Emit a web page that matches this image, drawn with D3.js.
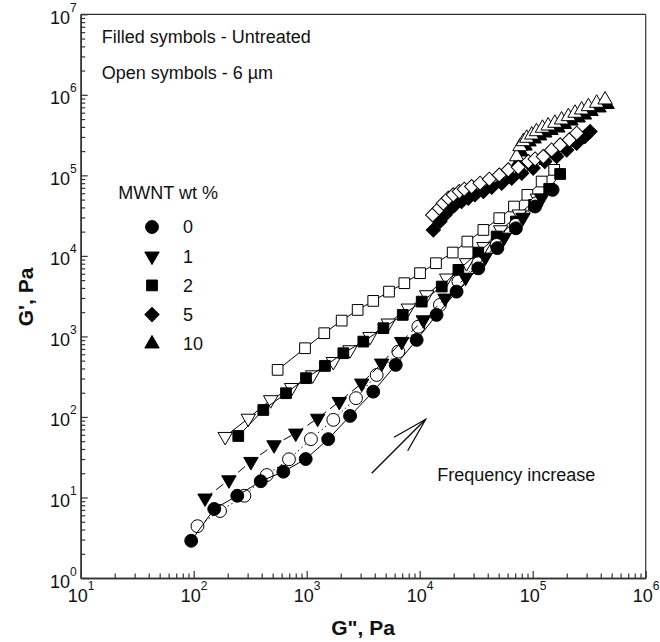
<!DOCTYPE html>
<html lang="en">
<head>
<meta charset="UTF-8">
<title>G' vs G''</title>
<script src="https://d3js.org/d3.v7.min.js"></script>
<style>
  body { margin: 0; background: white; }
  svg { display: block; font-family: Arial, "Liberation Sans", sans-serif; }
  .axis path, .axis line { stroke: #333; }
  .axis path { stroke-width: 1.5; }
  .axis line { stroke-width: 1.2; }
  .note { font-size: 18px; fill: #111; }
  .title { font-size: 21px; font-weight: bold; fill: #111; }
</style>
</head>
<body>
<svg id="chart"></svg>
<script>
const width = 660, height = 642;
const margin = { top: 14.3, right: 14.3, bottom: 64, left: 80.7 };

const xDecades = [1e1, 1e2, 1e3, 1e4, 1e5, 1e6];
const yDecades = [1e0, 1e1, 1e2, 1e3, 1e4, 1e5, 1e6, 1e7];

// MWNT wt %, legend
const legendLabels = ["0", "1", "2", "5", "10"];
const legendShapes = ["circle", "triDown", "square", "diamond", "triUp"];

// G'' (x) and G' (y), Pa
const u0Gpp = [95, 152, 243, 392, 621, 980, 1550, 2420, 3880, 6140, 9400, 14100, 21200, 33000, 48700, 71000, 105000, 150000];
const u0Gp  = [2.9, 7.2, 10.5, 15.9, 20.9, 30, 53, 103, 206, 443, 905, 1850, 3600, 7000, 12500, 22000, 41000, 66000];
const t0Gpp = [108, 171, 281, 443, 697, 1090, 1720, 2730, 4160, 6470, 9730, 15100, 22000, 33000, 48000, 71000, 108000];
const t0Gp  = [4.4, 6.8, 10.5, 19, 29.8, 53, 92, 171, 332, 648, 1320, 2460, 4800, 8100, 13700, 24300, 45000];

const u1Gpp = [126, 205, 321, 514, 800, 1250, 1945, 3070, 4610, 6930, 10770, 16750, 25500, 38000, 56000, 82000, 120000];
const u1Gp  = [9.8, 16.5, 27.9, 44.9, 62.7, 96, 155, 262, 464, 862, 1600, 2980, 5400, 9600, 17000, 30000, 52000];
const t1Gpp = [190, 304, 480, 736, 1130, 1720, 2415, 3630, 5270, 7930, 11530, 17330, 26000, 37000, 52000, 76000, 110000];
const t1Gp  = [57, 96, 163, 231, 332, 486, 680, 995, 1460, 2240, 3280, 5280, 8200, 13000, 21000, 33000, 52000];

const u2Gpp = [248, 413, 656, 986, 1450, 2110, 3170, 4770, 7080, 10420, 15670, 22000, 33000, 48000, 71000, 103000, 140000, 175000];
const u2Gp  = [58, 122, 197, 303, 430, 618, 862, 1265, 1850, 2705, 4160, 6700, 11000, 17400, 26700, 43000, 68000, 104000];
const t2Gpp = [553, 966, 1430, 2040, 2825, 3880, 5350, 7310, 10070, 13930, 19580, 26400, 36600, 50600, 68300, 89700, 120000, 155000];
const t2Gp  = [384, 713, 1096, 1572, 2133, 2760, 3600, 4580, 6100, 8110, 11000, 15060, 21000, 29400, 41000, 57300, 83800, 117000];

const u5Gpp = [13200, 15100, 16750, 18550, 20500, 23500, 26900, 30800, 36600, 43400, 53200, 65200, 80000, 101000, 128000, 163000, 200000, 245000, 290000, 322000];
const u5Gp  = [21000, 26700, 32300, 38000, 43000, 47300, 52100, 57300, 62900, 71300, 80000, 92300, 106000, 123000, 148500, 171000, 207000, 251000, 303000, 350000];
const t5Gpp = [13030, 14900, 16170, 17910, 19830, 22400, 24800, 28800, 34200, 41300, 50600, 60800, 74600, 91500, 105000, 124000, 147000, 175000, 211000, 245000];
const t5Gp  = [32300, 39100, 45100, 52100, 57300, 62900, 67400, 72600, 80000, 89700, 101000, 117000, 126000, 148500, 160000, 171000, 207000, 239000, 276000, 334000];

const u10Gpp = [74200, 78700, 85500, 92700, 103000, 115000, 128000, 145000, 167000, 191000, 218000, 252000, 287000, 328000, 386000, 455000];
const u10Gp  = [143000, 196000, 232000, 261000, 284000, 310000, 337000, 362000, 389000, 430000, 475000, 518000, 564000, 624000, 690000, 762000];
const t10Gpp = [72100, 77200, 82600, 88500, 98000, 108000, 122000, 137000, 157000, 180000, 207000, 237000, 271000, 311000, 368000, 437000];
const t10Gp  = [171000, 228000, 263000, 290000, 318000, 350000, 386000, 412000, 445000, 489000, 538000, 593000, 651000, 716000, 789000, 867000];

// arrow "Frequency increase"
const arrowGpp = [3760, 11300];
const arrowGp = [20, 93.6];
const arrowWingGpp = [5930, 11300, 7830];
const arrowWingGp = [56, 93.6, 38.1];

const series = [
  { gpp: u10Gpp, gp: u10Gp, shape: "triUp", filled: true, dash: null },
  { gpp: t10Gpp, gp: t10Gp, shape: "triUp", filled: false, dash: null },
  { gpp: u5Gpp, gp: u5Gp, shape: "diamond", filled: true, dash: null },
  { gpp: t5Gpp, gp: t5Gp, shape: "diamond", filled: false, dash: null },
  { gpp: t2Gpp, gp: t2Gp, shape: "square", filled: false, dash: null },
  { gpp: t1Gpp, gp: t1Gp, shape: "triDown", filled: false, dash: null },
  { gpp: u2Gpp, gp: u2Gp, shape: "square", filled: true, dash: null },
  { gpp: t0Gpp, gp: t0Gp, shape: "circle", filled: false, dash: "1.5,3" },
  { gpp: u1Gpp, gp: u1Gp, shape: "triDown", filled: true, dash: "9,5" },
  { gpp: u0Gpp, gp: u0Gp, shape: "circle", filled: true, dash: null }
];

const svg = d3.select("#chart").attr("width", width).attr("height", height);

const x = d3.scaleLog().domain([1e1, 1e6]).range([margin.left, width - margin.right]);
const y = d3.scaleLog().domain([1e0, 1e7]).range([height - margin.bottom, margin.top]);

const isDecade = v => Math.abs(Math.log10(v) - Math.round(Math.log10(v))) < 1e-9;
const minorX = x.ticks().filter(v => !isDecade(v));
const minorY = y.ticks().filter(v => !isDecade(v));

// minor ticks
svg.append("g").attr("class", "axis")
  .attr("transform", `translate(0,${height - margin.bottom})`)
  .call(d3.axisBottom(x).tickValues(minorX).tickSizeInner(-4.5).tickSizeOuter(0).tickFormat(""));
svg.append("g").attr("class", "axis")
  .attr("transform", `translate(${margin.left},0)`)
  .call(d3.axisLeft(y).tickValues(minorY).tickSizeInner(-4.5).tickSizeOuter(0).tickFormat(""));

// major ticks + labels
const xAxis = svg.append("g").attr("class", "axis")
  .attr("transform", `translate(0,${height - margin.bottom})`)
  .call(d3.axisBottom(x).tickValues(xDecades).tickSizeInner(-7).tickSizeOuter(0).tickFormat(""));
const yAxis = svg.append("g").attr("class", "axis")
  .attr("transform", `translate(${margin.left},0)`)
  .call(d3.axisLeft(y).tickValues(yDecades).tickSizeInner(-7).tickSizeOuter(0).tickFormat(""));

function powLabel(sel, anchor) {
  sel.each(function(d) {
    const t = d3.select(this).text(null)
      .attr("fill", "#111").attr("font-size", 18)
      .attr("text-anchor", anchor);
    t.append("tspan").text("10");
    t.append("tspan").attr("font-size", 12).attr("dy", -12).text(Math.round(Math.log10(d)));
  });
}
xAxis.selectAll(".tick text").attr("y", 24).attr("dy", 0).call(powLabel, "middle");
yAxis.selectAll(".tick text").attr("x", -4).attr("dy", "0.5em").call(powLabel, "end");

// top and right frame
svg.append("g").attr("class", "axis").call(g => {
  g.append("line").attr("x1", margin.left).attr("x2", width - margin.right)
    .attr("y1", margin.top).attr("y2", margin.top).attr("stroke-width", 1.5);
  g.append("line").attr("x1", width - margin.right).attr("x2", width - margin.right)
    .attr("y1", margin.top).attr("y2", height - margin.bottom).attr("stroke-width", 1.5);
});

const sizes = { circle: 130, square: 115, diamond: 100, triUp: 90, triDown: 90 };
function symPath(shape) {
  const type = shape === "circle" ? d3.symbolCircle
    : (shape === "square" || shape === "diamond") ? d3.symbolSquare
    : d3.symbolTriangle;
  return d3.symbol(type, sizes[shape])();
}
const rot = { circle: 0, square: 0, diamond: 45, triUp: 0, triDown: 180 };

const line = d3.line().x(d => x(d[0])).y(d => y(d[1]));
const plot = svg.append("g");

series.forEach(s => {
  const pts = s.gpp.map((v, i) => [v, s.gp[i]]);
  plot.append("path").datum(pts)
    .attr("d", line)
    .attr("fill", "none")
    .attr("stroke", "#000")
    .attr("stroke-width", 1)
    .attr("stroke-dasharray", s.dash);
  plot.append("g").selectAll("path").data(pts).join("path")
    .attr("d", symPath(s.shape))
    .attr("transform", d => `translate(${x(d[0])},${y(d[1])}) rotate(${rot[s.shape]})`)
    .attr("fill", s.filled ? "#000" : "#fff")
    .attr("stroke", "#000")
    .attr("stroke-width", 1);
});

// notes
svg.append("text").attr("class", "note").attr("x", 101.7).attr("y", 43).text("Filled symbols - Untreated");
svg.append("text").attr("class", "note").attr("x", 101.7).attr("y", 79).text("Open symbols - 6 µm");
svg.append("text").attr("class", "note").attr("x", 118.3).attr("y", 199).text("MWNT wt %");

const legend = svg.append("g").attr("transform", "translate(152,227)");
legendLabels.forEach((lab, i) => {
  const row = legend.append("g").attr("transform", `translate(0,${i * 29.2})`);
  row.append("path").attr("d", symPath(legendShapes[i]))
    .attr("transform", `rotate(${rot[legendShapes[i]]})`)
    .attr("fill", "#000").attr("stroke", "#000");
  row.append("text").attr("class", "note").attr("x", 31).attr("y", 6.4).text(lab);
});

// arrow
plot.append("path")
  .datum(arrowGpp.map((v, i) => [v, arrowGp[i]]))
  .attr("d", line).attr("fill", "none").attr("stroke", "#000").attr("stroke-width", 1.2);
plot.append("path")
  .datum(arrowWingGpp.map((v, i) => [v, arrowWingGp[i]]))
  .attr("d", line).attr("fill", "none").attr("stroke", "#000").attr("stroke-width", 1.2);
svg.append("text").attr("class", "note").attr("x", x(14300)).attr("y", 481.4).text("Frequency increase");

// axis titles
svg.append("text").attr("class", "title")
  .attr("text-anchor", "middle")
  .attr("x", 363).attr("y", 635)
  .text("G\", Pa");
svg.append("text").attr("class", "title")
  .attr("text-anchor", "middle")
  .attr("transform", "translate(33,297) rotate(-90)")
  .text("G', Pa");
</script>
</body>
</html>
